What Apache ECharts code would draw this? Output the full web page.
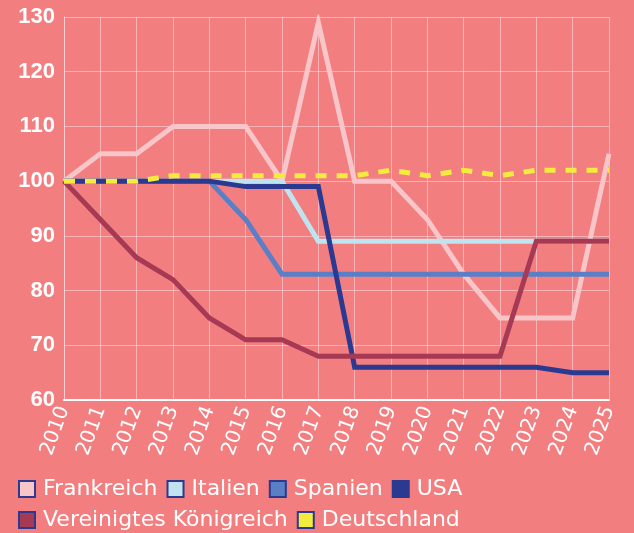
<!DOCTYPE html>
<html>
<head>
    <meta charset="utf-8">
    <title>Index 2010 = 100</title>
    <script type="text/javascript" src="https://cdn.jsdelivr.net/npm/echarts@6/dist/echarts.min.js"></script>
    <style>
        html, body { margin: 0; padding: 0; background: #f27e80; }
    </style>
</head>
<body>
<div id="main" style="width:634px;height:533px;"></div>

<script type="text/javascript">
    // Jahre
    var years = ['2010', '2011', '2012', '2013', '2014', '2015', '2016', '2017',
        '2018', '2019', '2020', '2021', '2022', '2023', '2024', '2025'];

    // Werte je Land
    var frankreich = [100, 105, 105, 110, 110, 110, 100, 129, 100, 100, 93, 83, 75, 75, 75, 105];
    var italien = [100, 100, 100, 100, 100, 100, 100, 89, 89, 89, 89, 89, 89, 89, 89, 89];
    var spanien = [100, 100, 100, 100, 100, 93, 83, 83, 83, 83, 83, 83, 83, 83, 83, 83];
    var usa = [100, 100, 100, 100, 100, 99, 99, 99, 66, 66, 66, 66, 66, 66, 65, 65];
    var vk = [100, 93, 86, 82, 75, 71, 71, 68, 68, 68, 68, 68, 68, 89, 89, 89];
    var deutschland = [100, 100, 100, 101, 101, 101, 101, 101, 101, 102, 101, 102, 101, 102, 102, 102];

    var names = ['Frankreich', 'Italien', 'Spanien', 'USA', 'Vereinigtes Königreich', 'Deutschland'];
    var colors = ['#f8c6c8', '#bfe4ef', '#5a7fc6', '#2b3990', '#a63a55', '#f3ec3f'];

    var chart = echarts.init(document.getElementById('main'));

    function line(i, data, dashed) {
        return {
            name: names[i],
            type: 'line',
            data: data,
            symbol: 'none',
            silent: true,
            lineStyle: {
                color: colors[i],
                width: 5,
                type: dashed ? [11, 10] : 'solid',
                cap: 'butt',
                join: 'miter'
            },
            itemStyle: {
                color: colors[i],
                borderColor: '#2b3990',
                borderWidth: 2
            }
        };
    }

    var option = {
        backgroundColor: '#f27e80',
        animation: false,
        grid: {
            left: 64,
            right: 25,
            top: 17,
            bottom: 133,
            containLabel: false
        },
        xAxis: {
            type: 'category',
            data: years,
            boundaryGap: false,
            axisLine: { lineStyle: { color: '#ffffff', width: 2 } },
            axisTick: { show: false },
            splitLine: { show: true, lineStyle: { color: 'rgba(255,220,225,0.55)', width: 1 } },
            axisLabel: {
                rotate: 70,
                interval: 0,
                color: '#ffffff',
                fontFamily: 'DejaVu Sans',
                fontSize: 20,
                margin: 7
            }
        },
        yAxis: {
            type: 'value',
            min: 60,
            max: 130,
            interval: 10,
            axisLine: { show: true, lineStyle: { color: 'rgba(255,220,225,0.7)', width: 1 } },
            axisTick: { show: false },
            splitLine: { lineStyle: { color: 'rgba(255,220,225,0.55)', width: 1 } },
            axisLabel: {
                color: '#ffffff',
                fontFamily: 'Liberation Sans',
                fontWeight: 'bold',
                fontSize: 22,
                margin: 9
            }
        },
        legend: {
            left: 13,
            top: 473,
            width: 500,
            itemWidth: 16,
            itemHeight: 16,
            itemGap: 9,
            icon: 'rect',
            data: names,
            textStyle: {
                color: '#ffffff',
                fontFamily: 'DejaVu Sans',
                fontSize: 22,
                padding: [0, 0, 0, 3],
                lineHeight: 21
            }
        },
        series: [
            line(0, frankreich),
            line(1, italien),
            line(2, spanien),
            line(3, usa),
            line(4, vk),
            line(5, deutschland, true)
        ]
    };

    chart.setOption(option);
</script>
</body>
</html>
